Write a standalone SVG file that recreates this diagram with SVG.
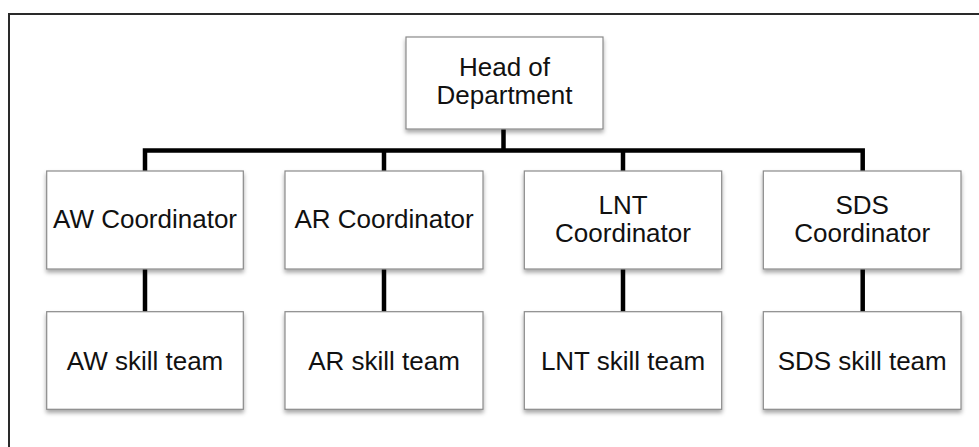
<svg xmlns="http://www.w3.org/2000/svg" width="979" height="447" viewBox="0 0 979 447">
  <defs>
    <filter id="sh" x="-10%" y="-10%" width="120%" height="130%">
      <feDropShadow dx="0" dy="3" stdDeviation="2" flood-color="#000" flood-opacity="0.35"/>
    </filter>
  </defs>
  <style>
    .box { fill: #fff; stroke: #8a8a8a; stroke-width: 1.2; filter: url(#sh); }
    .lbl { font-family: "Liberation Sans", Arial, sans-serif; font-size: 26px; fill: #111; text-anchor: middle; }
    .conn { fill: none; stroke: #000; stroke-width: 4.5; }
    .frame { fill: none; stroke: #2a2a2a; stroke-width: 2; }
  </style>
  <rect width="979" height="447" fill="#fff"/>
  <path class="frame" d="M9,447 V14 H979"/>

  <g id="connectors">
    <path class="conn" d="M503.5,129 V150.5"/>
    <path class="conn" d="M145,171 V150.5 H862.7 V171" stroke-linejoin="miter"/>
    <path class="conn" d="M384,150.5 V171"/>
    <path class="conn" d="M623,150.5 V171"/>
    <path class="conn" d="M145,269 V312"/>
    <path class="conn" d="M384,269 V312"/>
    <path class="conn" d="M623,269 V312"/>
    <path class="conn" d="M862.7,269 V312"/>
  </g>

  <g id="head">
    <rect class="box" x="406" y="37" width="197" height="92"/>
    <text class="lbl" x="504.5" y="76">Head of</text>
    <text class="lbl" x="504.5" y="104">Department</text>
  </g>

  <g id="aw-coord">
    <rect class="box" x="46.7" y="171" width="196.6" height="98"/>
    <text class="lbl" x="145" y="228">AW Coordinator</text>
  </g>
  <g id="ar-coord">
    <rect class="box" x="285" y="171" width="198" height="98"/>
    <text class="lbl" x="384" y="228">AR Coordinator</text>
  </g>
  <g id="lnt-coord">
    <rect class="box" x="524.3" y="171" width="197.4" height="98"/>
    <text class="lbl" x="623" y="214">LNT</text>
    <text class="lbl" x="623" y="241.5">Coordinator</text>
  </g>
  <g id="sds-coord">
    <rect class="box" x="763.3" y="171" width="197.7" height="98"/>
    <text class="lbl" x="862.2" y="214">SDS</text>
    <text class="lbl" x="862.2" y="241.5">Coordinator</text>
  </g>

  <g id="aw-team">
    <rect class="box" x="46.7" y="311.7" width="196.6" height="97.6"/>
    <text class="lbl" x="145" y="370">AW skill team</text>
  </g>
  <g id="ar-team">
    <rect class="box" x="285" y="311.7" width="198" height="97.6"/>
    <text class="lbl" x="384" y="370">AR skill team</text>
  </g>
  <g id="lnt-team">
    <rect class="box" x="524.3" y="311.7" width="197.4" height="97.6"/>
    <text class="lbl" x="623" y="370">LNT skill team</text>
  </g>
  <g id="sds-team">
    <rect class="box" x="763.3" y="311.7" width="197.7" height="97.6"/>
    <text class="lbl" x="862.2" y="370">SDS skill team</text>
  </g>
</svg>
